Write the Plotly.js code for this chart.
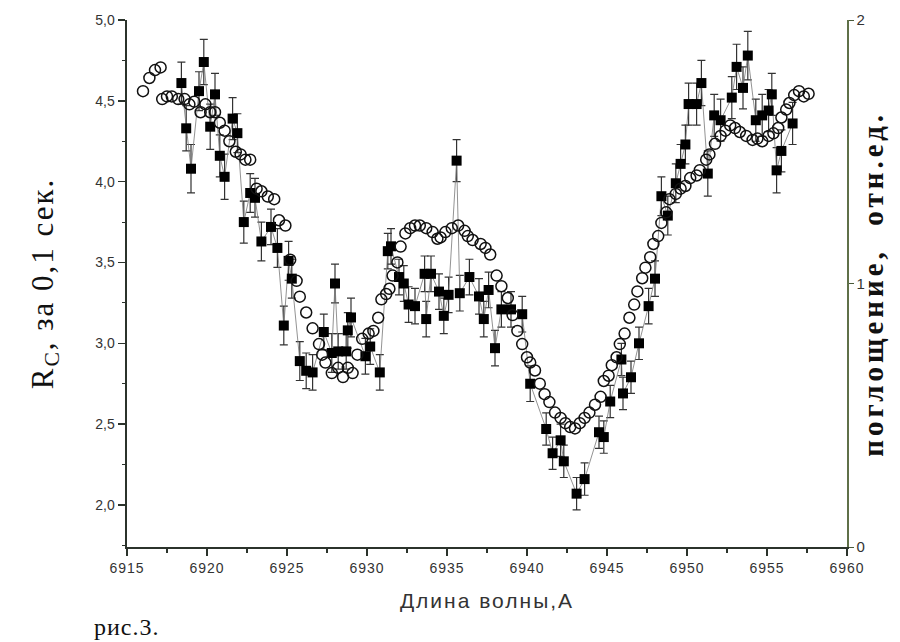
<!DOCTYPE html>
<html>
<head>
<meta charset="utf-8">
<script src="https://cdn.plot.ly/plotly-3.0.1.min.js"></script>
<style>
html,body{margin:0;padding:0;background:#fff;}
#chart{width:900px;height:642px;}
#chart .xtitle{letter-spacing:2px;}
#chart .ytitle{letter-spacing:2px;}
#chart g.annotation[data-index="1"] text{letter-spacing:4px;}
#chart g.annotation[data-index="0"] text{letter-spacing:1px;}
#chart .xtick text{letter-spacing:1px;}
</style>
</head>
<body>
<div id="chart"></div>
<script>
// Squares: counting rate R_C (left axis) with error bars
const rcWave = [6918.4,6918.7,6919.0,6919.5,6919.8,6920.2,6920.5,6920.8,6921.1,6921.6,6921.9,6922.3,6922.7,6923.0,6923.4,6924.0,6924.4,6924.8,6925.1,6925.3,6925.8,6926.2,6926.6,6927.3,6927.8,6928.0,6928.2,6928.7,6928.8,6929.0,6929.9,6930.2,6930.8,6931.3,6931.5,6932.0,6932.3,6932.6,6933.0,6933.6,6933.7,6934.0,6934.5,6934.8,6935.1,6935.6,6935.8,6936.4,6937.0,6937.3,6937.6,6938.0,6938.4,6939.0,6939.7,6940.2,6941.2,6941.6,6942.1,6942.3,6943.1,6943.6,6944.5,6944.8,6945.2,6945.9,6946.0,6946.5,6947.0,6947.6,6948.0,6948.4,6948.8,6949.3,6949.6,6949.9,6950.1,6950.6,6950.9,6951.3,6951.7,6952.1,6952.8,6953.1,6953.5,6953.8,6954.3,6954.7,6955.1,6955.3,6955.6,6955.9,6956.6];
const rcValue = [4.61,4.33,4.08,4.56,4.74,4.34,4.54,4.16,4.03,4.39,4.30,3.75,3.93,3.90,3.63,3.72,3.59,3.11,3.51,3.40,2.89,2.83,2.82,3.07,2.94,3.37,2.95,2.95,3.08,3.16,2.92,2.98,2.82,3.57,3.60,3.41,3.37,3.24,3.23,3.43,3.15,3.43,3.32,3.17,3.30,4.13,3.31,3.41,3.29,3.15,3.33,2.97,3.21,3.21,3.18,2.75,2.47,2.32,2.40,2.27,2.07,2.16,2.45,2.42,2.64,2.90,2.69,2.79,3.00,3.23,3.40,3.91,3.79,3.99,4.11,4.23,4.48,4.48,4.61,4.05,4.41,4.38,4.52,4.71,4.58,4.78,4.38,4.41,4.44,4.54,4.07,4.19,4.36];
const rcError = [0.13,0.14,0.15,0.12,0.14,0.14,0.13,0.13,0.14,0.13,0.12,0.13,0.12,0.12,0.12,0.11,0.12,0.12,0.12,0.12,0.12,0.11,0.11,0.11,0.12,0.12,0.11,0.11,0.11,0.12,0.11,0.11,0.11,0.11,0.11,0.11,0.11,0.11,0.11,0.11,0.11,0.11,0.11,0.11,0.11,0.13,0.11,0.11,0.11,0.11,0.11,0.11,0.11,0.11,0.11,0.11,0.10,0.10,0.10,0.10,0.10,0.10,0.10,0.10,0.10,0.10,0.10,0.10,0.10,0.11,0.11,0.12,0.12,0.12,0.12,0.12,0.13,0.13,0.14,0.14,0.13,0.13,0.13,0.14,0.13,0.15,0.13,0.13,0.13,0.13,0.14,0.13,0.13];

// Open circles: absorption (right axis, rel. units)
const absWave = [6916.0,6916.4,6916.75,6917.1,6917.2,6917.5,6917.8,6918.2,6918.6,6918.9,6919.2,6919.6,6919.9,6920.2,6920.5,6920.8,6921.1,6921.4,6921.8,6922.1,6922.4,6922.7,6923.1,6923.4,6923.8,6924.2,6924.5,6924.9,6925.2,6925.6,6925.8,6926.2,6926.6,6927.0,6927.2,6927.4,6927.8,6928.2,6928.5,6928.8,6929.1,6929.4,6929.7,6930.1,6930.4,6930.7,6930.9,6931.2,6931.4,6931.6,6931.9,6932.1,6932.4,6932.7,6933.0,6933.3,6933.7,6934.1,6934.4,6934.6,6934.9,6935.3,6935.7,6936.1,6936.3,6936.6,6937.1,6937.4,6937.7,6938.1,6938.4,6938.8,6939.1,6939.4,6939.7,6940.0,6940.2,6940.5,6940.8,6941.1,6941.4,6941.75,6942.1,6942.4,6942.7,6943.0,6943.3,6943.6,6943.9,6944.25,6944.6,6944.8,6945.1,6945.3,6945.6,6945.8,6946.1,6946.4,6946.7,6946.9,6947.2,6947.4,6947.7,6947.9,6948.2,6948.4,6948.7,6948.9,6949.3,6949.6,6949.9,6950.2,6950.6,6950.8,6951.2,6951.4,6951.75,6952.1,6952.4,6952.7,6953.0,6953.3,6953.7,6954.1,6954.4,6954.7,6955.1,6955.4,6955.7,6955.9,6956.2,6956.4,6956.7,6957.0,6957.3,6957.6];
const absValue = [1.73,1.78,1.81,1.82,1.70,1.71,1.71,1.70,1.70,1.68,1.69,1.65,1.68,1.65,1.65,1.61,1.58,1.54,1.50,1.49,1.47,1.47,1.36,1.35,1.33,1.32,1.24,1.22,1.09,1.01,0.95,0.89,0.83,0.77,0.73,0.70,0.66,0.68,0.645,0.68,0.66,0.73,0.79,0.81,0.82,0.87,0.94,0.96,0.98,1.03,1.08,1.14,1.19,1.21,1.22,1.22,1.21,1.195,1.17,1.175,1.195,1.21,1.22,1.20,1.18,1.165,1.15,1.135,1.11,1.03,0.99,0.945,0.88,0.82,0.77,0.72,0.70,0.67,0.62,0.58,0.55,0.51,0.49,0.47,0.455,0.45,0.47,0.49,0.51,0.54,0.57,0.63,0.65,0.69,0.72,0.77,0.81,0.87,0.92,0.97,1.02,1.06,1.10,1.15,1.18,1.23,1.27,1.32,1.34,1.36,1.37,1.40,1.41,1.43,1.47,1.49,1.53,1.56,1.58,1.60,1.59,1.575,1.56,1.545,1.55,1.54,1.56,1.57,1.59,1.63,1.66,1.685,1.715,1.73,1.71,1.72];

const xTicks = [6915,6920,6925,6930,6935,6940,6945,6950,6955,6960];
const yTicks = [2.0,2.5,3.0,3.5,4.0,4.5,5.0];
const y2Ticks = [0,1,2];

const traces = [
  {
    x: absWave, y: absValue, yaxis: 'y2', type: 'scatter', mode: 'markers',
    marker: {symbol: 'circle-open', size: 11, color: '#111', line: {width: 1.5, color: '#111'}},
    showlegend: false
  },
  {
    x: rcWave, y: rcValue, type: 'scatter', mode: 'lines+markers',
    line: {color: '#777', width: 0.8},
    marker: {symbol: 'square', size: 10, color: '#000'},
    error_y: {type: 'data', array: rcError, visible: true, color: '#333', thickness: 1.2, width: 4},
    showlegend: false
  }
];

const tickFont = {family: '"Liberation Sans Narrow", "Arial Narrow", "Liberation Sans", sans-serif', size: 14, color: '#333'};
const serif = '"Liberation Serif", "Times New Roman", serif';

const layout = {
  width: 900, height: 642,
  margin: {l: 127, r: 53, t: 20, b: 95},
  paper_bgcolor: '#fff', plot_bgcolor: '#fff',
  separators: ', ',
  showlegend: false,
  xaxis: {
    range: [6915, 6960], tickvals: xTicks, ticktext: xTicks.map(String),
    ticks: 'outside', ticklen: 7, tickwidth: 2, tickcolor: '#2b332b',
    minor: {dtick: 2.5, ticks: 'outside', ticklen: 4, tickwidth: 1.5, tickcolor: '#2b332b'},
    showline: true, linecolor: '#2b332b', linewidth: 2, mirror: false,
    showgrid: false, zeroline: false, tickfont: tickFont,
    title: {text: 'Длина волны,А', font: {family: '"Liberation Sans", Arial, sans-serif', size: 21, color: '#333'}, standoff: 19}
  },
  yaxis: {
    range: [1.74, 5.0], tickvals: yTicks, tickformat: '.1f',
    ticks: 'outside', ticklen: 7, tickwidth: 1.5, tickcolor: '#2b332b',
    minor: {dtick: 0.25, ticks: 'outside', ticklen: 3, tickwidth: 1, tickcolor: '#2b332b'},
    showline: true, linecolor: '#2b332b', linewidth: 2.5,
    showgrid: false, zeroline: false, tickfont: tickFont,
    title: {text: 'R<sub>C</sub>, за 0,1 сек.', font: {family: serif, size: 31, color: '#111'}, standoff: 33}
  },
  yaxis2: {
    overlaying: 'y', side: 'right', range: [0, 2], tickvals: y2Ticks,
    ticks: 'outside', ticklen: 5, tickwidth: 1, tickcolor: '#4a5a3a',
    showline: true, linecolor: '#5f7048', linewidth: 1.5,
    showgrid: false, zeroline: false, tickfont: {family: '"Liberation Sans", Arial, sans-serif', size: 15, color: '#333'}
  },
  annotations: [
    {text: 'рис.3.', xref: 'paper', yref: 'paper', x: -0.044, y: -0.152, xanchor: 'left', yanchor: 'middle', showarrow: false,
     font: {family: serif, size: 24, color: '#111'}},
    {text: 'поглощение,  отн.ед.', xref: 'paper', yref: 'paper', x: 1.035, y: 0.5, xanchor: 'center', yanchor: 'middle', textangle: -90, showarrow: false,
     font: {family: serif, size: 29, color: '#111', weight: 'bold'}}
  ]
};

Plotly.newPlot('chart', traces, layout, {displayModeBar: false, staticPlot: true});
</script>
</body>
</html>
